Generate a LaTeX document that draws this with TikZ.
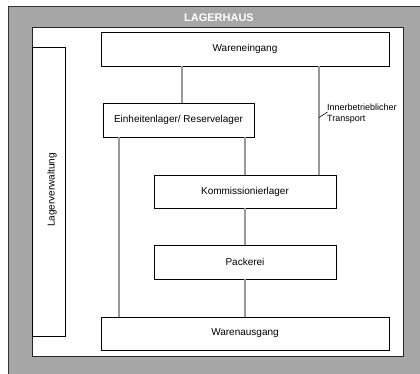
\documentclass[tikz,border=0pt]{standalone}
\usepackage{fontspec}
\setmainfont{Liberation Sans}
\definecolor{framegray}{HTML}{A6A6A6}
\definecolor{linkgray}{HTML}{999999}
\begin{document}
\begin{tikzpicture}[x=1pt,y=-1pt,
  stage/.style={draw=black,line width=0.9pt,fill=white,font=\fontsize{10}{12}\selectfont,inner sep=0pt},
  link/.style={draw=linkgray,line width=2.4pt}]
\useasboundingbox (0,0) rectangle (420,373);
% outer frame
\draw[fill=framegray,draw=black!80,line width=1pt] (8,6) rectangle (430,383);
\node[font=\bfseries\fontsize{11}{13}\selectfont,text=white] (title) at (219,17.5) {LAGERHAUS};
% inner area
\draw[fill=white,draw=black!85,line width=0.9pt] (32,27) rectangle (403,356);
% Lagerverwaltung
\draw[draw=black,line width=0.9pt,fill=white] (32,47) rectangle (65,336);
\node[rotate=90,font=\fontsize{10}{12}\selectfont] (lv) at (52,190) {Lagerverwaltung};
% stages
\node[stage,minimum width=288pt,minimum height=34pt] (we) at (245,49) {Wareneingang};
\node[stage,minimum width=151pt,minimum height=34pt] (el) at (178.5,120) {Einheitenlager/ Reservelager};
\node[stage,minimum width=182pt,minimum height=33pt] (kl) at (245,191.5) {Kommissionierlager};
\node[stage,minimum width=182pt,minimum height=34pt] (pk) at (245,262) {Packerei};
\node[stage,minimum width=288pt,minimum height=33pt] (wa) at (245,333.5) {Warenausgang};
% connectors
\draw[link] (we.south -| 182,0) -- (el.north -| 182,0);
\draw[link] (el.south -| 119,0) -- (wa.north -| 119,0);
\draw[link] (el.south -| 245,0) -- (kl.north);
\draw[link] (kl.south) -- (pk.north);
\draw[link] (pk.south) -- (wa.north);
\draw[link] (we.south -| 319,0) -- (kl.north -| 319,0);
% label
\node[anchor=north west,align=left,inner sep=0pt,font=\fontsize{9}{11}\selectfont] (tr) at (327,104) {Innerbetrieblicher\\Transport};
\coordinate (trp) at (319,117.5);
\draw[black,line width=0.6pt] (trp) -- (327.5,112);
\end{tikzpicture}
\end{document}
